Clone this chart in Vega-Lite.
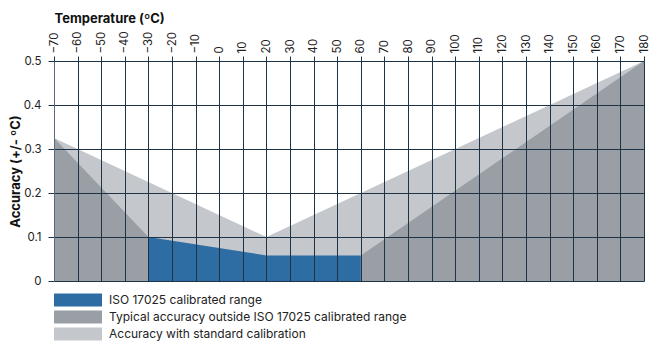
{
  "$schema": "https://vega.github.io/schema/vega-lite/v6.json",
  "autosize": "none",
  "width": 590,
  "height": 220,
  "padding": {"left": 54, "top": 61, "right": 5, "bottom": 61},
  "background": "white",
  "config": {
    "font": "Inter",
    "view": {"stroke": null}
  },
  "data": {
    "values": [
      {"series": "Accuracy with standard calibration", "seg": "std", "t": -70, "acc": 0.325},
      {"series": "Accuracy with standard calibration", "seg": "std", "t": 20, "acc": 0.1},
      {"series": "Accuracy with standard calibration", "seg": "std", "t": 180, "acc": 0.5},
      {"series": "Typical accuracy outside ISO 17025 calibrated range", "seg": "left", "t": -70, "acc": 0.325},
      {"series": "Typical accuracy outside ISO 17025 calibrated range", "seg": "left", "t": -30, "acc": 0.1},
      {"series": "Typical accuracy outside ISO 17025 calibrated range", "seg": "right", "t": 60, "acc": 0.058},
      {"series": "Typical accuracy outside ISO 17025 calibrated range", "seg": "right", "t": 180, "acc": 0.5},
      {"series": "ISO 17025 calibrated range", "seg": "iso", "t": -30, "acc": 0.1},
      {"series": "ISO 17025 calibrated range", "seg": "iso", "t": 20, "acc": 0.058},
      {"series": "ISO 17025 calibrated range", "seg": "iso", "t": 60, "acc": 0.058}
    ]
  },
  "encoding": {
    "x": {
      "field": "t", "type": "quantitative",
      "scale": {"domain": [-70, 180], "nice": false, "zero": false},
      "axis": {
        "orient": "top",
        "values": [-70,-60,-50,-40,-30,-20,-10,0,10,20,30,40,50,60,70,80,90,100,110,120,130,140,150,160,170,180],
        "labelAngle": -90,
        "labelFontSize": 11.5,
        "labelColor": "#222222",
        "labelPadding": 3,
        "tickSize": 5,
        "tickColor": "#1f3346",
        "domainColor": "#1f3346",
        "gridColor": "#1f3346",
        "gridOpacity": 1,
        "grid": true,
        "zindex": 1,
        "labelOverlap": false,
        "labelFlush": false,
        "title": "Temperature (ºC)",
        "titleAnchor": "start",
        "titleAlign": "left",
        "titleFontSize": 13,
        "titleFontWeight": "bold",
        "titleColor": "#111111",
        "titlePadding": 5
      }
    },
    "y": {
      "field": "acc", "type": "quantitative", "stack": null,
      "scale": {"domain": [0, 0.5], "nice": false},
      "axis": {
        "values": [0, 0.1, 0.2, 0.3, 0.4, 0.5],
        "format": "~g",
        "labelFontSize": 11.5,
        "labelColor": "#222222",
        "labelPadding": 7,
        "tickSize": 6,
        "tickColor": "#1f3346",
        "domainColor": "#5b6b7a",
        "gridColor": "#1f3346",
        "gridOpacity": 1,
        "grid": true,
        "zindex": 1,
        "title": "Accuracy (+/- ºC)",
        "titleFontSize": 13,
        "titleFontWeight": "bold",
        "titleColor": "#111111",
        "titlePadding": 1
      }
    },
    "color": {
      "field": "series", "type": "nominal",
      "scale": {
        "domain": ["ISO 17025 calibrated range", "Typical accuracy outside ISO 17025 calibrated range", "Accuracy with standard calibration"],
        "range": ["#2e6da4", "#9a9fa5", "#c4c7cc"]
      },
      "legend": {
        "title": null,
        "orient": "bottom",
        "direction": "vertical",
        "offset": 12,
        "symbolType": "M-1,-0.27H1V0.27H-1Z",
        "symbolSize": 2304,
        "symbolStrokeWidth": 0,
        "symbolOpacity": 1,
        "clipHeight": 14,
        "rowPadding": 3,
        "labelFontSize": 12,
        "labelColor": "#222222",
        "labelOffset": 7,
        "labelLimit": 400
      }
    },
    "detail": {"field": "seg"}
  },
  "layer": [
    {"transform": [{"filter": "datum.seg == 'std'"}], "mark": {"type": "area", "opacity": 1}},
    {"transform": [{"filter": "datum.seg == 'left' || datum.seg == 'right'"}], "mark": {"type": "area", "opacity": 1}},
    {"transform": [{"filter": "datum.seg == 'iso'"}], "mark": {"type": "area", "opacity": 1}}
  ]
}
